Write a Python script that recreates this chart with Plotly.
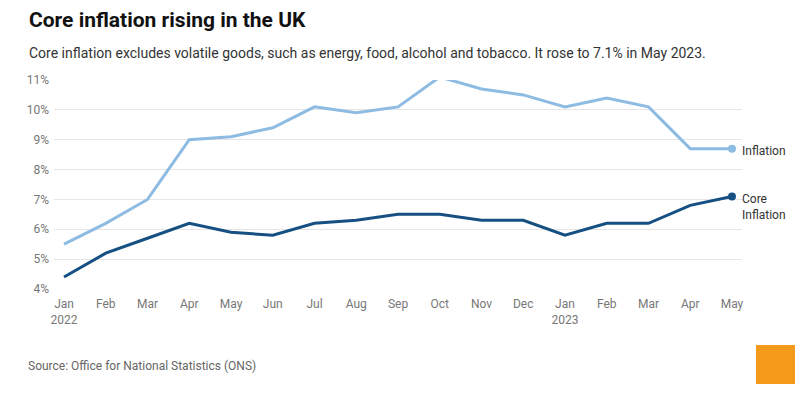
import plotly.graph_objects as go

months = ["Jan<br>2022", "Feb", "Mar", "Apr", "May", "Jun", "Jul", "Aug", "Sep", "Oct",
          "Nov", "Dec", "Jan<br>2023", "Feb", "Mar", "Apr", "May"]
inflation = [5.5, 6.2, 7.0, 9.0, 9.1, 9.4, 10.1, 9.9, 10.1, 11.1, 10.7, 10.5, 10.1, 10.4, 10.1, 8.7, 8.7]
core_inflation = [4.4, 5.2, 5.7, 6.2, 5.9, 5.8, 6.2, 6.3, 6.5, 6.5, 6.3, 6.3, 5.8, 6.2, 6.2, 6.8, 7.1]
y_ticks = [4, 5, 6, 7, 8, 9, 10, 11]
y_tick_labels = [f"{v}%" for v in y_ticks]

C_INF = "#8dbbe2"
C_CORE = "#165083"
FONT = "Roboto"

# page body has an 8px margin; lay out in screen coordinates and compensate
OFF = 8
W, H = 803, 399
PL, PR, PT, PB = 54, 742, 80, 289  # plot area in screen pixels
L, T = PL - OFF, PT - OFF
R, B = W - (PR - OFF), H - (PB - OFF)
PW, PH = PR - PL, PB - PT


def px(xs):
    return (xs - PL) / PW


def py(ys):
    return (PB - ys) / PH


x = list(range(len(months)))
fig = go.Figure()
fig.add_trace(go.Scatter(x=x, y=inflation, mode="lines", line=dict(color=C_INF, width=3),
                         cliponaxis=False, hoverinfo="skip"))
fig.add_trace(go.Scatter(x=x, y=core_inflation, mode="lines", line=dict(color=C_CORE, width=3),
                         cliponaxis=False, hoverinfo="skip"))
fig.add_trace(go.Scatter(x=[x[-1]], y=[inflation[-1]], mode="markers",
                         marker=dict(color=C_INF, size=8), cliponaxis=False, hoverinfo="skip"))
fig.add_trace(go.Scatter(x=[x[-1]], y=[core_inflation[-1]], mode="markers",
                         marker=dict(color=C_CORE, size=8), cliponaxis=False, hoverinfo="skip"))
fig.add_annotation(x=x[-1], y=inflation[-1], text="Inflation", showarrow=False,
                   xanchor="left", yanchor="middle", xshift=8, yshift=-2, align="left",
                   font=dict(size=12, color="#333", family=FONT))
fig.add_annotation(x=x[-1], y=core_inflation[-1], text="Core<br>Inflation", showarrow=False,
                   xanchor="left", yanchor="top", xshift=8, yshift=6, align="left",
                   font=dict(size=12, color="#333", family=FONT))

fig.update_layout(
    width=W, height=H,
    margin=dict(l=L, r=R, t=T, b=B, autoexpand=False),
    paper_bgcolor="white", plot_bgcolor="white",
    showlegend=False,
    font=dict(family=FONT, color="#777"),
    xaxis=dict(range=[-0.24, len(months) - 1 + 0.24], tickmode="array", tickvals=x, ticktext=months,
               showgrid=False, zeroline=False, showline=False, ticks="", automargin=False,
               ticklabelstandoff=6,
               tickfont=dict(size=12, color="#777", family=FONT)),
    yaxis=dict(range=[4, 11], tickmode="array", tickvals=y_ticks, ticktext=y_tick_labels,
               showgrid=True, gridcolor="#e6e6e6", gridwidth=1, zeroline=False, showline=False,
               ticks="", ticklabelstandoff=4, automargin=False,
               tickfont=dict(size=12, color="#777", family=FONT)),
)
fig.add_annotation(xref="paper", yref="paper", x=px(27), y=py(20), xanchor="left", yanchor="middle",
                   text="<b>Core inflation rising in the UK</b>", showarrow=False,
                   font=dict(size=21, color="#111", family=FONT))
fig.add_annotation(xref="paper", yref="paper", x=px(27), y=py(53), xanchor="left", yanchor="middle",
                   text="Core inflation excludes volatile goods, such as energy, food, alcohol and tobacco. It rose to 7.1% in May 2023.",
                   showarrow=False, font=dict(size=14, color="#333", family=FONT))
fig.add_annotation(xref="paper", yref="paper", x=px(26), y=py(366), xanchor="left", yanchor="middle",
                   text="Source: Office for National Statistics (ONS)", showarrow=False,
                   font=dict(size=12, color="#666", family=FONT))
fig.add_shape(type="rect", xref="paper", yref="paper",
              x0=px(756), x1=px(795), y0=py(384), y1=py(345),
              fillcolor="#f39a1b", line=dict(width=0))

fig.write_html("out.html")
